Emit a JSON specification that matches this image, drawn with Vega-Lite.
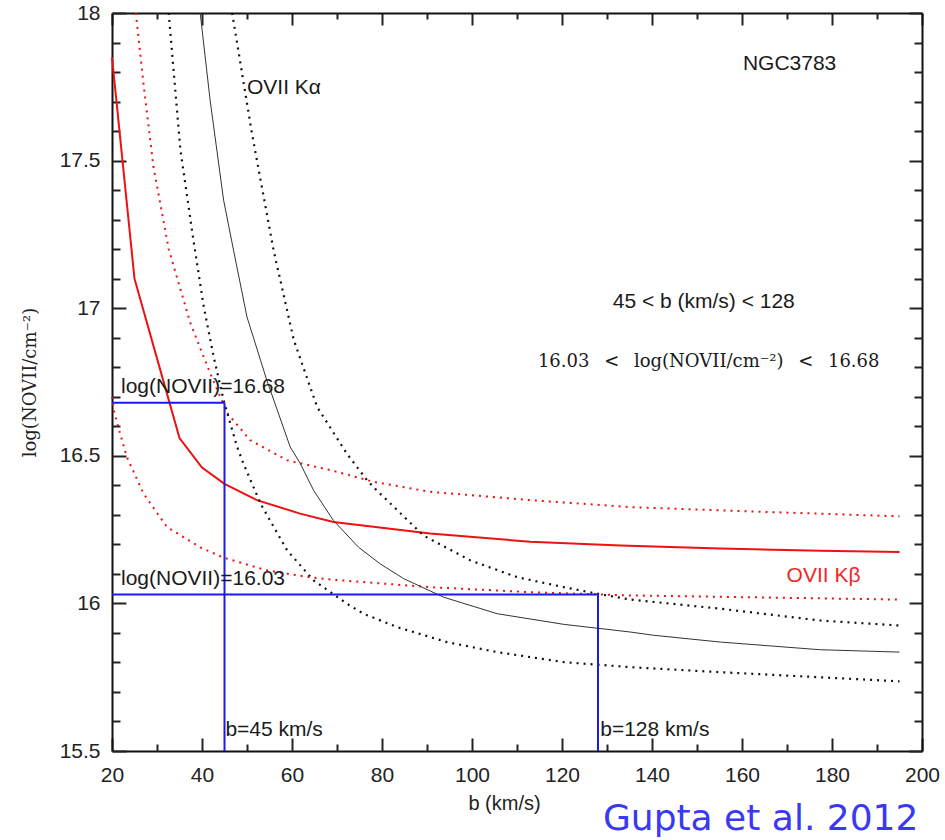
{
  "$schema": "https://vega.github.io/schema/vega-lite/v6.json",
  "width": 810,
  "height": 738,
  "autosize": "none",
  "padding": {"left": 112, "top": 13, "right": 23, "bottom": 89},
  "background": "white",
  "config": {
    "view": {"stroke": null},
    "axis": {"grid": false, "labelFont": "Liberation Sans", "titleFont": "Liberation Sans", "labelColor": "#222", "titleColor": "#222", "tickColor": "#222", "domainColor": "#111", "titleFontWeight": "normal"}
  },
  "datasets": {
    "curves": [
      {"curve": "kb_best", "b": 20, "v": 17.85}, {"curve": "kb_best", "b": 25, "v": 17.10}, {"curve": "kb_best", "b": 30, "v": 16.83}, {"curve": "kb_best", "b": 35, "v": 16.56}, {"curve": "kb_best", "b": 40, "v": 16.46}, {"curve": "kb_best", "b": 45, "v": 16.405}, {"curve": "kb_best", "b": 52.2, "v": 16.35}, {"curve": "kb_best", "b": 61.8, "v": 16.304}, {"curve": "kb_best", "b": 69.2, "v": 16.276}, {"curve": "kb_best", "b": 90.7, "v": 16.237}, {"curve": "kb_best", "b": 112.9, "v": 16.209}, {"curve": "kb_best", "b": 133.0, "v": 16.196}, {"curve": "kb_best", "b": 155.2, "v": 16.186}, {"curve": "kb_best", "b": 177.4, "v": 16.178}, {"curve": "kb_best", "b": 195, "v": 16.174},
      {"curve": "kb_upper", "b": 25.3, "v": 18.0}, {"curve": "kb_upper", "b": 27.0, "v": 17.76}, {"curve": "kb_upper", "b": 29.2, "v": 17.48}, {"curve": "kb_upper", "b": 32.6, "v": 17.2}, {"curve": "kb_upper", "b": 37.4, "v": 16.95}, {"curve": "kb_upper", "b": 41.8, "v": 16.78}, {"curve": "kb_upper", "b": 45.6, "v": 16.645}, {"curve": "kb_upper", "b": 50.7, "v": 16.553}, {"curve": "kb_upper", "b": 58.9, "v": 16.485}, {"curve": "kb_upper", "b": 69.2, "v": 16.449}, {"curve": "kb_upper", "b": 78.1, "v": 16.412}, {"curve": "kb_upper", "b": 90.7, "v": 16.378}, {"curve": "kb_upper", "b": 112.9, "v": 16.35}, {"curve": "kb_upper", "b": 135.2, "v": 16.326}, {"curve": "kb_upper", "b": 155.2, "v": 16.315}, {"curve": "kb_upper", "b": 195, "v": 16.295},
      {"curve": "kb_lower", "b": 20, "v": 16.70}, {"curve": "kb_lower", "b": 20.4, "v": 16.654}, {"curve": "kb_lower", "b": 21.8, "v": 16.575}, {"curve": "kb_lower", "b": 23.3, "v": 16.496}, {"curve": "kb_lower", "b": 27.0, "v": 16.372}, {"curve": "kb_lower", "b": 32.2, "v": 16.259}, {"curve": "kb_lower", "b": 39.6, "v": 16.19}, {"curve": "kb_lower", "b": 44.8, "v": 16.155}, {"curve": "kb_lower", "b": 54.4, "v": 16.112}, {"curve": "kb_lower", "b": 63.3, "v": 16.09}, {"curve": "kb_lower", "b": 69.2, "v": 16.08}, {"curve": "kb_lower", "b": 90.7, "v": 16.055}, {"curve": "kb_lower", "b": 112.9, "v": 16.038}, {"curve": "kb_lower", "b": 135.2, "v": 16.027}, {"curve": "kb_lower", "b": 195, "v": 16.013},
      {"curve": "ka_lower", "b": 32.6, "v": 18.0}, {"curve": "ka_lower", "b": 35.2, "v": 17.536}, {"curve": "ka_lower", "b": 38.1, "v": 17.23}, {"curve": "ka_lower", "b": 40.4, "v": 17.004}, {"curve": "ka_lower", "b": 42.6, "v": 16.835}, {"curve": "ka_lower", "b": 44.8, "v": 16.688}, {"curve": "ka_lower", "b": 47.8, "v": 16.53}, {"curve": "ka_lower", "b": 49.2, "v": 16.474}, {"curve": "ka_lower", "b": 53.0, "v": 16.338}, {"curve": "ka_lower", "b": 58.9, "v": 16.18}, {"curve": "ka_lower", "b": 64.8, "v": 16.078}, {"curve": "ka_lower", "b": 72.2, "v": 15.999}, {"curve": "ka_lower", "b": 75.9, "v": 15.965}, {"curve": "ka_lower", "b": 83.3, "v": 15.92}, {"curve": "ka_lower", "b": 94.4, "v": 15.869}, {"curve": "ka_lower", "b": 105.6, "v": 15.835}, {"curve": "ka_lower", "b": 120.4, "v": 15.801}, {"curve": "ka_lower", "b": 135.2, "v": 15.784}, {"curve": "ka_lower", "b": 155.2, "v": 15.767}, {"curve": "ka_lower", "b": 195, "v": 15.736},
      {"curve": "ka_best", "b": 39.6, "v": 18.0}, {"curve": "ka_best", "b": 41.8, "v": 17.705}, {"curve": "ka_best", "b": 44.8, "v": 17.366}, {"curve": "ka_best", "b": 47.0, "v": 17.197}, {"curve": "ka_best", "b": 50.0, "v": 16.97}, {"curve": "ka_best", "b": 54.4, "v": 16.756}, {"curve": "ka_best", "b": 59.6, "v": 16.53}, {"curve": "ka_best", "b": 61.8, "v": 16.475}, {"curve": "ka_best", "b": 64.8, "v": 16.383}, {"curve": "ka_best", "b": 69.2, "v": 16.281}, {"curve": "ka_best", "b": 74.8, "v": 16.19}, {"curve": "ka_best", "b": 79.6, "v": 16.134}, {"curve": "ka_best", "b": 84.8, "v": 16.084}, {"curve": "ka_best", "b": 93.7, "v": 16.021}, {"curve": "ka_best", "b": 105.6, "v": 15.965}, {"curve": "ka_best", "b": 120.4, "v": 15.929}, {"curve": "ka_best", "b": 135.2, "v": 15.903}, {"curve": "ka_best", "b": 140.4, "v": 15.892}, {"curve": "ka_best", "b": 155.2, "v": 15.869}, {"curve": "ka_best", "b": 177.4, "v": 15.843}, {"curve": "ka_best", "b": 195, "v": 15.835},
      {"curve": "ka_upper", "b": 46.7, "v": 18.0}, {"curve": "ka_upper", "b": 51.1, "v": 17.592}, {"curve": "ka_upper", "b": 55.9, "v": 17.197}, {"curve": "ka_upper", "b": 60.4, "v": 16.892}, {"curve": "ka_upper", "b": 65.6, "v": 16.665}, {"curve": "ka_upper", "b": 72.2, "v": 16.507}, {"curve": "ka_upper", "b": 76.7, "v": 16.417}, {"curve": "ka_upper", "b": 78.1, "v": 16.394}, {"curve": "ka_upper", "b": 89.2, "v": 16.23}, {"curve": "ka_upper", "b": 99.6, "v": 16.146}, {"curve": "ka_upper", "b": 110.0, "v": 16.089}, {"curve": "ka_upper", "b": 120.4, "v": 16.055}, {"curve": "ka_upper", "b": 127.8, "v": 16.033}, {"curve": "ka_upper", "b": 135.2, "v": 16.013}, {"curve": "ka_upper", "b": 155.2, "v": 15.982}, {"curve": "ka_upper", "b": 177.4, "v": 15.942}, {"curve": "ka_upper", "b": 195, "v": 15.925}
    ],
    "limits": [
      {"b": 20, "b2": 45, "v": 16.68, "v2": 16.68},
      {"b": 45, "b2": 45, "v": 15.5, "v2": 16.68},
      {"b": 20, "b2": 128, "v": 16.03, "v2": 16.03},
      {"b": 128, "b2": 128, "v": 15.5, "v2": 16.03}
    ],
    "notes": [
      {"kind": "plain", "b": 160.2, "v": 17.827, "text": "NGC3783"},
      {"kind": "plain", "b": 50.0, "v": 17.746, "text": "OVII Kα"},
      {"kind": "plain", "b": 22.0, "v": 16.734, "text": "log(NOVII)=16.68"},
      {"kind": "plain", "b": 22.0, "v": 16.084, "text": "log(NOVII)=16.03"},
      {"kind": "plain", "b": 45.2, "v": 15.57, "text": "b=45 km/s"},
      {"kind": "plain", "b": 128.5, "v": 15.57, "text": "b=128 km/s"},
      {"kind": "range", "b": 151.5, "v": 17.022, "text": "45 < b (km/s) < 128"},
      {"kind": "rangetex", "b": 152.6, "v": 16.818, "text": "16.03 \u2002<\u2002 log(NOVII/cm⁻²) \u2002<\u2002 16.68"},
      {"kind": "kb", "b": 169.9, "v": 16.092, "text": "OVII Kβ"},
      {"kind": "source", "b": 199.2, "v": 15.271, "text": "Gupta et al. 2012"}
    ]
  },
  "layer": [
    {
      "data": {"name": "curves"},
      "transform": [{"filter": "datum.curve === 'kb_best'"}],
      "mark": {"type": "line", "color": "#f01010", "strokeWidth": 2},
      "encoding": {
        "x": {"field": "b", "type": "quantitative", "scale": {"domain": [20, 200], "nice": false, "zero": false},
          "axis": {"orient": "bottom", "values": [20, 40, 60, 80, 100, 120, 140, 160, 180, 200], "format": "d", "ticks": false, "tickSize": 0, "domain": true, "domainWidth": 2, "labelFontSize": 21, "labelPadding": 13, "labelFlush": false, "labelOverlap": false, "title": "b (km/s)", "titleFontSize": 20, "titlePadding": 8, "titleX": 392}},
        "y": {"field": "v", "type": "quantitative", "scale": {"domain": [15.5, 18], "nice": false, "zero": false},
          "axis": {"orient": "left", "values": [15.5, 16, 16.5, 17, 17.5, 18], "format": "~g", "ticks": false, "tickSize": 0, "domain": true, "domainWidth": 2, "labelFontSize": 21, "labelPadding": 12, "labelFlush": false, "labelOverlap": false, "title": "log(NOVII/cm⁻²)", "titleFont": "DejaVu Serif", "titleFontSize": 18, "titlePadding": 20}}
      }
    },
    {
      "data": {"name": "curves"},
      "transform": [{"filter": "datum.curve === 'kb_upper'"}],
      "mark": {"type": "line", "color": "#f01010", "strokeWidth": 2, "strokeDash": [2, 5]},
      "encoding": {
        "x": {"field": "b", "type": "quantitative", "scale": {"domain": [20, 200], "nice": false, "zero": false},
          "axis": {"orient": "bottom", "values": [20, 40, 60, 80, 100, 120, 140, 160, 180, 200], "labels": false, "domain": false, "tickSize": -13, "tickWidth": 2, "title": null}},
        "y": {"field": "v", "type": "quantitative", "scale": {"domain": [15.5, 18], "nice": false, "zero": false},
          "axis": {"orient": "left", "values": [15.5, 16, 16.5, 17, 17.5, 18], "labels": false, "domain": false, "tickSize": -14, "tickWidth": 2, "title": null}}
      }
    },
    {
      "data": {"name": "curves"},
      "transform": [{"filter": "datum.curve === 'kb_lower'"}],
      "mark": {"type": "line", "color": "#f01010", "strokeWidth": 2, "strokeDash": [2, 5]},
      "encoding": {
        "x": {"field": "b", "type": "quantitative", "scale": {"domain": [20, 200], "nice": false, "zero": false},
          "axis": {"orient": "bottom", "values": [30, 50, 70, 90, 110, 130, 150, 170, 190], "labels": false, "domain": false, "tickSize": -7, "tickWidth": 2, "title": null}},
        "y": {"field": "v", "type": "quantitative", "scale": {"domain": [15.5, 18], "nice": false, "zero": false},
          "axis": {"orient": "left", "values": [15.6, 15.7, 15.8, 15.9, 16.1, 16.2, 16.3, 16.4, 16.6, 16.7, 16.8, 16.9, 17.1, 17.2, 17.3, 17.4, 17.6, 17.7, 17.8, 17.9], "labels": false, "domain": false, "tickSize": -8, "tickWidth": 2, "title": null}}
      }
    },
    {
      "data": {"name": "curves"},
      "transform": [{"filter": "datum.curve === 'ka_lower'"}],
      "mark": {"type": "line", "color": "#111111", "strokeWidth": 2.2, "strokeDash": [2, 5]},
      "encoding": {
        "x": {"field": "b", "type": "quantitative", "scale": {"domain": [20, 200], "nice": false, "zero": false},
          "axis": {"orient": "top", "values": [20, 40, 60, 80, 100, 120, 140, 160, 180, 200], "labels": false, "domain": true, "domainWidth": 2, "tickSize": -12, "tickWidth": 2, "title": null}},
        "y": {"field": "v", "type": "quantitative", "scale": {"domain": [15.5, 18], "nice": false, "zero": false},
          "axis": {"orient": "right", "values": [15.5, 16, 16.5, 17, 17.5, 18], "labels": false, "domain": true, "domainWidth": 2, "tickSize": -13, "tickWidth": 2, "title": null}}
      }
    },
    {
      "data": {"name": "curves"},
      "transform": [{"filter": "datum.curve === 'ka_best'"}],
      "mark": {"type": "line", "color": "#333333", "strokeWidth": 1},
      "encoding": {
        "x": {"field": "b", "type": "quantitative", "scale": {"domain": [20, 200], "nice": false, "zero": false},
          "axis": {"orient": "top", "values": [30, 50, 70, 90, 110, 130, 150, 170, 190], "labels": false, "domain": false, "tickSize": -6, "tickWidth": 2, "title": null}},
        "y": {"field": "v", "type": "quantitative", "scale": {"domain": [15.5, 18], "nice": false, "zero": false},
          "axis": {"orient": "right", "values": [15.6, 15.7, 15.8, 15.9, 16.1, 16.2, 16.3, 16.4, 16.6, 16.7, 16.8, 16.9, 17.1, 17.2, 17.3, 17.4, 17.6, 17.7, 17.8, 17.9], "labels": false, "domain": false, "tickSize": -8, "tickWidth": 2, "title": null}}
      }
    },
    {
      "data": {"name": "curves"},
      "transform": [{"filter": "datum.curve === 'ka_upper'"}],
      "mark": {"type": "line", "color": "#111111", "strokeWidth": 2.2, "strokeDash": [2, 5]},
      "encoding": {
        "x": {"field": "b", "type": "quantitative", "scale": {"domain": [20, 200], "nice": false, "zero": false}, "axis": null},
        "y": {"field": "v", "type": "quantitative", "scale": {"domain": [15.5, 18], "nice": false, "zero": false}, "axis": null}
      }
    },
    {
      "data": {"name": "limits"},
      "mark": {"type": "rule", "color": "#1a1aee", "strokeWidth": 2},
      "encoding": {
        "x": {"field": "b", "type": "quantitative", "scale": {"domain": [20, 200], "nice": false, "zero": false}, "axis": null},
        "x2": {"field": "b2"},
        "y": {"field": "v", "type": "quantitative", "scale": {"domain": [15.5, 18], "nice": false, "zero": false}, "axis": null},
        "y2": {"field": "v2"}
      }
    },
    {
      "data": {"name": "notes"},
      "transform": [{"filter": "datum.kind === 'plain'"}],
      "mark": {"type": "text", "align": "left", "baseline": "middle", "font": "Liberation Sans", "fontSize": 21, "color": "#1a1a1a"},
      "encoding": {
        "x": {"field": "b", "type": "quantitative", "scale": {"domain": [20, 200], "nice": false, "zero": false}, "axis": null},
        "y": {"field": "v", "type": "quantitative", "scale": {"domain": [15.5, 18], "nice": false, "zero": false}, "axis": null},
        "text": {"field": "text"}
      }
    },
    {
      "data": {"name": "notes"},
      "transform": [{"filter": "datum.kind === 'range'"}],
      "mark": {"type": "text", "align": "center", "baseline": "middle", "font": "Liberation Sans", "fontSize": 21, "color": "#1a1a1a"},
      "encoding": {
        "x": {"field": "b", "type": "quantitative", "scale": {"domain": [20, 200], "nice": false, "zero": false}, "axis": null},
        "y": {"field": "v", "type": "quantitative", "scale": {"domain": [15.5, 18], "nice": false, "zero": false}, "axis": null},
        "text": {"field": "text"}
      }
    },
    {
      "data": {"name": "notes"},
      "transform": [{"filter": "datum.kind === 'rangetex'"}],
      "mark": {"type": "text", "align": "center", "baseline": "middle", "font": "DejaVu Serif", "fontSize": 18, "color": "#1a1a1a"},
      "encoding": {
        "x": {"field": "b", "type": "quantitative", "scale": {"domain": [20, 200], "nice": false, "zero": false}, "axis": null},
        "y": {"field": "v", "type": "quantitative", "scale": {"domain": [15.5, 18], "nice": false, "zero": false}, "axis": null},
        "text": {"field": "text"}
      }
    },
    {
      "data": {"name": "notes"},
      "transform": [{"filter": "datum.kind === 'kb'"}],
      "mark": {"type": "text", "align": "left", "baseline": "middle", "font": "Liberation Sans", "fontSize": 21, "color": "#f02828"},
      "encoding": {
        "x": {"field": "b", "type": "quantitative", "scale": {"domain": [20, 200], "nice": false, "zero": false}, "axis": null},
        "y": {"field": "v", "type": "quantitative", "scale": {"domain": [15.5, 18], "nice": false, "zero": false}, "axis": null},
        "text": {"field": "text"}
      }
    },
    {
      "data": {"name": "notes"},
      "transform": [{"filter": "datum.kind === 'source'"}],
      "mark": {"type": "text", "align": "right", "baseline": "middle", "font": "DejaVu Sans", "fontSize": 36, "color": "#3838f5"},
      "encoding": {
        "x": {"field": "b", "type": "quantitative", "scale": {"domain": [20, 200], "nice": false, "zero": false}, "axis": null},
        "y": {"field": "v", "type": "quantitative", "scale": {"domain": [15.5, 18], "nice": false, "zero": false}, "axis": null},
        "text": {"field": "text"}
      }
    }
  ],
  "resolve": {"axis": {"x": "independent", "y": "independent"}}
}
